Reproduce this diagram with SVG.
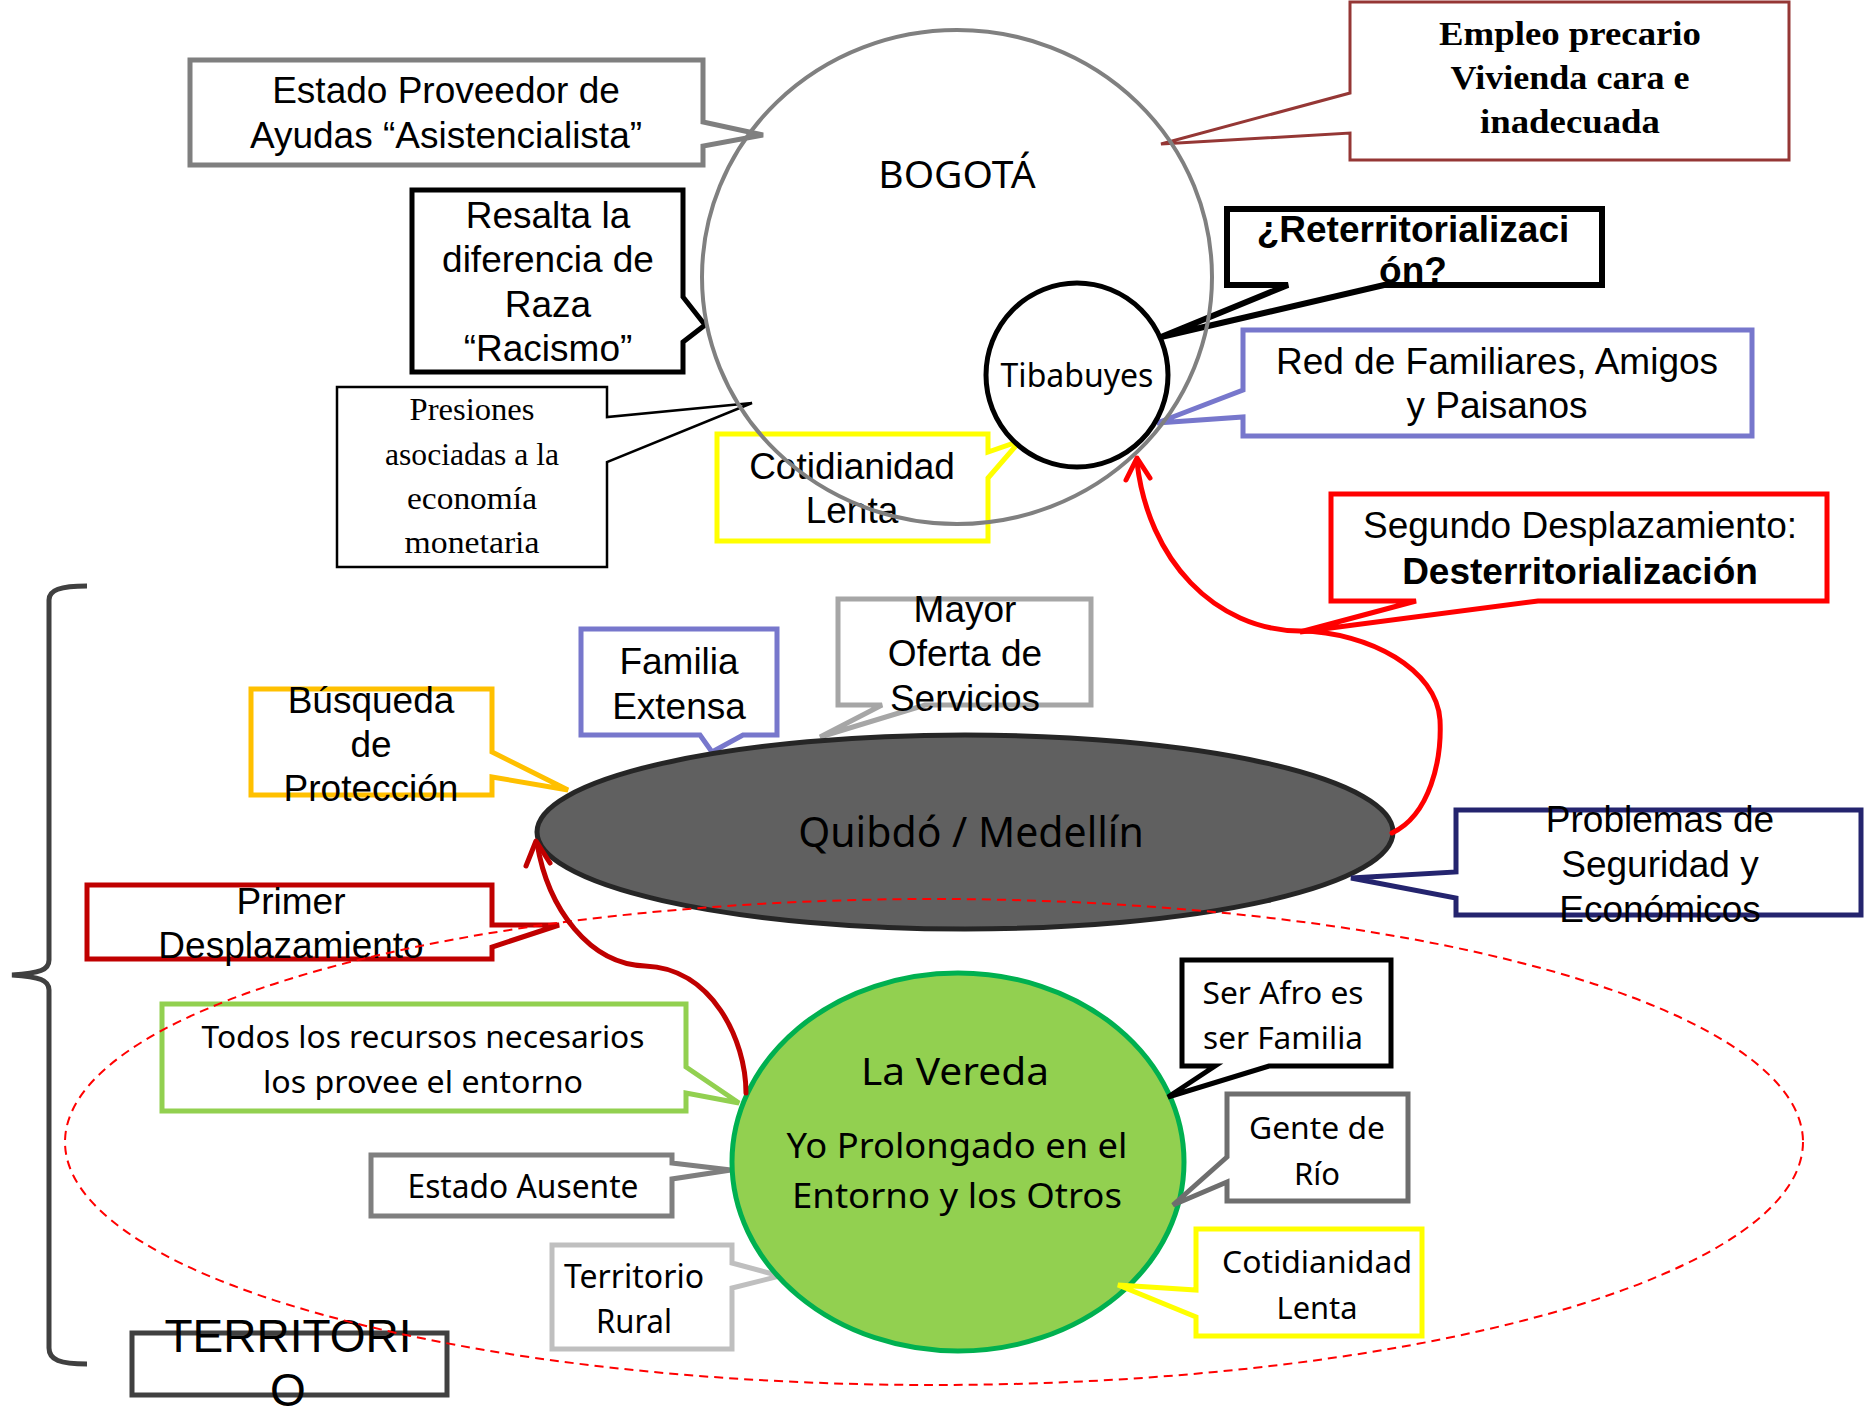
<svg xmlns="http://www.w3.org/2000/svg" width="1864" height="1411" viewBox="0 0 1864 1411">
<style>
.co{fill:#fff;stroke-width:5;stroke-linejoin:miter}
.t{font-family:"Liberation Sans",Arial,sans-serif;font-size:37px;text-anchor:middle;fill:#000}
.b{font-weight:bold}
.c{font-family:"Noto Sans","Open Sans",sans-serif;text-anchor:middle;fill:#000}
.g{font-family:"Liberation Serif","Times New Roman",serif;text-anchor:middle;fill:#000}
.arr{fill:none;stroke-width:5;stroke-linecap:round;stroke-linejoin:round}
</style>
<rect width="1864" height="1411" fill="#fff"/>

<g id="brace">
<path d="M87,586 C60,586 49,590 49,600 L49,960 C49,970 40,973 12,975 C40,977 49,980 49,990 L49,1348 C49,1360 60,1364 87,1364" fill="none" stroke="#404040" stroke-width="5"/>
</g>

<g id="estado-proveedor">
<path class="co" stroke="#7F7F7F" d="M190,60 H703 V122 L763,135 L703,146 V165 H190 Z"/>
<text class="t" x="446" y="103">Estado Proveedor de</text>
<text class="t" x="446" y="148">Ayudas “Asistencialista”</text>
</g>

<g id="resalta">
<path class="co" stroke="#000" d="M412,190 H683 V297 L705,325 L683,342 V372 H412 Z"/>
<text class="t" x="548" y="228">Resalta la</text>
<text class="t" x="548" y="272">diferencia de</text>
<text class="t" x="548" y="317">Raza</text>
<text class="t" x="548" y="361">“Racismo”</text>
</g>

<g id="presiones">
<path class="co" stroke="#000" style="stroke-width:2.5" d="M337,387 H607 V417 L752,403 L607,462 V567 H337 Z"/>
<text class="g" x="472" y="420" font-size="31" textLength="125" lengthAdjust="spacingAndGlyphs">Presiones</text>
<text class="g" x="472" y="465" font-size="31" textLength="174" lengthAdjust="spacingAndGlyphs">asociadas a la</text>
<text class="g" x="472" y="509" font-size="31" textLength="130" lengthAdjust="spacingAndGlyphs">economía</text>
<text class="g" x="472" y="553" font-size="31" textLength="135" lengthAdjust="spacingAndGlyphs">monetaria</text>
</g>

<g id="cotidianidad-bogota">
<path class="co" stroke="#FFFF00" d="M717,434 H988 V452 L1020,441 L988,478 V541 H717 Z"/>
<text class="t" x="852" y="479">Cotidianidad</text>
<text class="t" x="852" y="523">Lenta</text>
</g>

<g id="empleo">
<path class="co" stroke="#953735" style="stroke-width:3" d="M1350,2 H1789 V160 H1350 V133 L1161,144 L1350,93 Z"/>
<text class="g b" x="1570" y="45" font-size="33" textLength="262" lengthAdjust="spacingAndGlyphs">Empleo precario</text>
<text class="g b" x="1570" y="89" font-size="33" textLength="239" lengthAdjust="spacingAndGlyphs">Vivienda cara e</text>
<text class="g b" x="1570" y="133" font-size="33" textLength="180" lengthAdjust="spacingAndGlyphs">inadecuada</text>
</g>

<g id="reterritorializacion">
<path class="co" stroke="#000" style="stroke-width:6" d="M1227,209 H1602 V285 H1384 L1161,337 L1288,285 H1227 Z"/>
<text class="t b" x="1413" y="242">¿Reterritorializaci</text>
<text class="t b" x="1413" y="283">ón?</text>
</g>

<g id="red-familiares">
<path class="co" stroke="#7777CC" d="M1243,330 H1752 V436 H1243 V417 L1157,423 L1243,390 Z"/>
<text class="t" x="1497" y="374">Red de Familiares, Amigos</text>
<text class="t" x="1497" y="418">y Paisanos</text>
</g>

<g id="segundo-desplazamiento">
<path class="co" stroke="#FF0000" d="M1331,494 H1827 V601 H1538 L1300,632 L1416,601 H1331 Z"/>
<text class="t" x="1580" y="538">Segundo Desplazamiento:</text>
<text class="t b" x="1580" y="584">Desterritorialización</text>
</g>

<g id="bogota">
<ellipse cx="957" cy="277" rx="255" ry="247" fill="none" stroke="#808080" stroke-width="4"/>
<text class="c" x="957" y="188" font-size="39">BOGOTÁ</text>
</g>

<g id="tibabuyes">
<ellipse cx="1077" cy="375" rx="91" ry="92" fill="#fff" stroke="#000" stroke-width="5"/>
<text class="c" x="1077" y="387" font-size="32">Tibabuyes</text>
</g>

<g id="busqueda">
<path class="co" stroke="#FFC000" d="M251,689 H492 V752 L568,790 L492,777 V795 H251 Z"/>
<text class="t" x="371" y="713">Búsqueda</text>
<text class="t" x="371" y="757">de</text>
<text class="t" x="371" y="801">Protección</text>
</g>

<g id="familia-extensa">
<path class="co" stroke="#7777CC" d="M581,629 H777 V735 H743 L712,752 L700,735 H581 Z"/>
<text class="t" x="679" y="674">Familia</text>
<text class="t" x="679" y="719">Extensa</text>
</g>

<g id="mayor-oferta">
<path class="co" stroke="#A6A6A6" d="M838,599 H1091 V705 H925 L820,737 L882,705 H838 Z"/>
<text class="t" x="965" y="622">Mayor</text>
<text class="t" x="965" y="666">Oferta de</text>
<text class="t" x="965" y="711">Servicios</text>
</g>

<g id="quibdo-medellin">
<ellipse cx="965" cy="832" rx="428" ry="97" fill="#606060" stroke="#262626" stroke-width="5"/>
<text class="c" x="971" y="847" font-size="41">Quibdó / Medellín</text>
</g>

<g id="problemas">
<path class="co" stroke="#24246E" d="M1456,810 H1861 V915 H1456 V898 L1351,878 L1456,872 Z"/>
<text class="t" x="1660" y="832">Problemas de</text>
<text class="t" x="1660" y="877">Seguridad y</text>
<text class="t" x="1660" y="922">Económicos</text>
</g>

<g id="primer-desplazamiento">
<path class="co" stroke="#C00000" d="M87,885 H492 V925 L559,925 L492,947 V959 H87 Z"/>
<text class="t" x="291" y="914">Primer</text>
<text class="t" x="291" y="958">Desplazamiento</text>
</g>

<g id="todos-recursos">
<path class="co" stroke="#92D050" d="M162,1004 H686 V1067 L739,1103 L686,1093 V1111 H162 Z"/>
<text class="c" x="423" y="1048" font-size="31" textLength="443" lengthAdjust="spacingAndGlyphs">Todos los recursos necesarios</text>
<text class="c" x="423" y="1093" font-size="31" textLength="320" lengthAdjust="spacingAndGlyphs">los provee el entorno</text>
</g>

<g id="estado-ausente">
<path class="co" stroke="#7F7F7F" d="M371,1155 H672 V1163 L731,1170 L672,1179 V1216 H371 Z"/>
<text class="c" x="523" y="1198" font-size="32" textLength="231" lengthAdjust="spacingAndGlyphs">Estado Ausente</text>
</g>

<g id="territorio-rural">
<path class="co" stroke="#BFBFBF" d="M552,1245 H732 V1263 L780,1276 L732,1288 V1349 H552 Z"/>
<text class="c" x="634" y="1288" font-size="32" textLength="140" lengthAdjust="spacingAndGlyphs">Territorio</text>
<text class="c" x="634" y="1333" font-size="32" textLength="76" lengthAdjust="spacingAndGlyphs">Rural</text>
</g>

<g id="la-vereda">
<ellipse cx="958" cy="1162" rx="226" ry="189" fill="#92D050" stroke="#00B050" stroke-width="5"/>
<text class="c" x="955" y="1085" font-size="38" textLength="188" lengthAdjust="spacingAndGlyphs">La Vereda</text>
<text class="c" x="957" y="1158" font-size="35" textLength="341" lengthAdjust="spacingAndGlyphs">Yo Prolongado en el</text>
<text class="c" x="957" y="1208" font-size="35" textLength="330" lengthAdjust="spacingAndGlyphs">Entorno y los Otros</text>
</g>

<g id="ser-afro">
<path class="co" stroke="#000" d="M1182,960 H1391 V1066 H1269 L1168,1097 L1215,1066 H1182 Z"/>
<text class="c" x="1283" y="1004" font-size="31" textLength="161" lengthAdjust="spacingAndGlyphs">Ser Afro es</text>
<text class="c" x="1283" y="1049" font-size="31" textLength="160" lengthAdjust="spacingAndGlyphs">ser Familia</text>
</g>

<g id="gente-rio">
<path class="co" stroke="#6E6E6E" d="M1227,1094 H1408 V1201 H1227 V1182 L1173,1205 L1227,1157 Z"/>
<text class="c" x="1317" y="1139" font-size="31" textLength="136" lengthAdjust="spacingAndGlyphs">Gente de</text>
<text class="c" x="1317" y="1185" font-size="31" textLength="46" lengthAdjust="spacingAndGlyphs">Río</text>
</g>

<g id="cotidianidad-vereda">
<path class="co" stroke="#FFFF00" d="M1196,1229 H1422 V1336 H1196 V1317 L1118,1285 L1196,1290 Z"/>
<text class="c" x="1317" y="1273" font-size="31" textLength="190" lengthAdjust="spacingAndGlyphs">Cotidianidad</text>
<text class="c" x="1317" y="1319" font-size="31" textLength="81" lengthAdjust="spacingAndGlyphs">Lenta</text>
</g>

<g id="territorio">
<rect x="132" y="1333" width="315" height="62" fill="#fff" stroke="#404040" stroke-width="5"/>
<text class="t" x="288" y="1352" style="font-size:46px">TERRITORI</text>
<text class="t" x="288" y="1406" style="font-size:46px">O</text>
</g>

<g id="territorio-zone">
<ellipse cx="934" cy="1142" rx="869" ry="243" fill="none" stroke="#FF0000" stroke-width="2" stroke-dasharray="9 6"/>
</g>

<g id="connectors">
<path class="arr" stroke="#FF0000" d="M1392,833 C1430,815 1442,760 1440,720 C1437,670 1370,632 1300,631 C1215,630 1148,560 1137,462"/>
<polyline class="arr" stroke="#FF0000" points="1126,480 1137,458 1150,478"/>
<path class="arr" stroke="#C00000" d="M746,1093 C746,1040 712,968 645,966 C590,964 548,910 537,843"/>
<polyline class="arr" stroke="#C00000" points="526,866 536,841 550,863"/>
</g>
</svg>
